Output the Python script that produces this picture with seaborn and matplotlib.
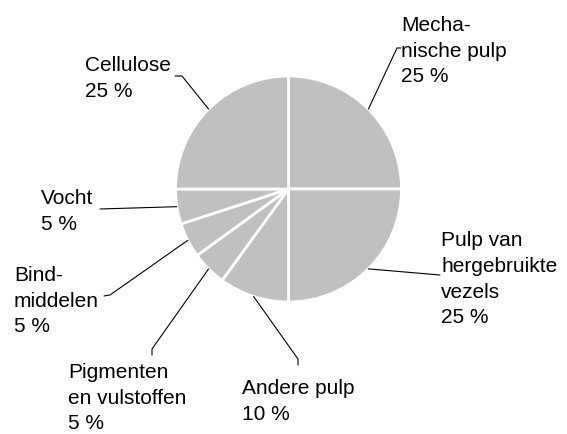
import matplotlib
matplotlib.use("Agg")
import matplotlib.pyplot as plt
import seaborn as sns
import numpy as np

# ==================== DATA ====================
labels = ["Mecha-\nnische pulp", "Pulp van\nhergebruikte\nvezels", "Andere pulp",
          "Pigmenten\nen vulstoffen", "Bind-\nmiddelen", "Vocht", "Cellulose"]
shares = [25, 25, 10, 5, 5, 5, 25]

# ==================== LAYOUT (pixels, from top-left) ====================
W, H = 567, 435
CENTER = (288.5, 190)
RADIUS = 113
# text top-left, leader elbow, leader end
text_pos = [(401, 16), (441, 231), (242, 379), (68, 363), (14, 266), (41, 189), (85, 56)]
elbows = [(397, 49), (440, 276), (298, 360), (152, 350), (110, 296), (100, 210), (182, 77)]
ends = [(401, 49), (440, 276), (298, 366), (152, 356), (104, 297), (100, 210), (175, 77)]


def px(x, y):
    return x, H - y


sns.set_theme(style="white")
plt.rcParams['font.family'] = ['Liberation Sans', 'DejaVu Sans']

fig = plt.figure(figsize=(W / 100, H / 100), dpi=100)
ax = fig.add_axes([0, 0, 1, 1])
ax.axis('off')

wedges, _ = ax.pie(shares, startangle=90, counterclock=False,
                   center=px(*CENTER), radius=RADIUS, colors=['#c0c0c0'] * len(shares),
                   wedgeprops=dict(edgecolor='white', linewidth=2))
ax.set_xlim(0, W)
ax.set_ylim(0, H)

cx, cy = px(*CENTER)
for w, lab, share, tp, el, en in zip(wedges, labels, shares, text_pos, elbows, ends):
    mid = np.deg2rad((w.theta1 + w.theta2) / 2)
    sx, sy = cx + RADIUS * np.cos(mid), cy + RADIUS * np.sin(mid)
    ex, ey = px(*el)
    nx, ny = px(*en)
    ax.plot([sx, ex, nx], [sy, ey, ny], color='black', lw=0.8)
    ax.text(*px(*tp), f"{lab}\n{share} %", ha='left', va='top', fontsize=15,
            linespacing=1.45, color='black')

fig.savefig("out.png", dpi=100)
